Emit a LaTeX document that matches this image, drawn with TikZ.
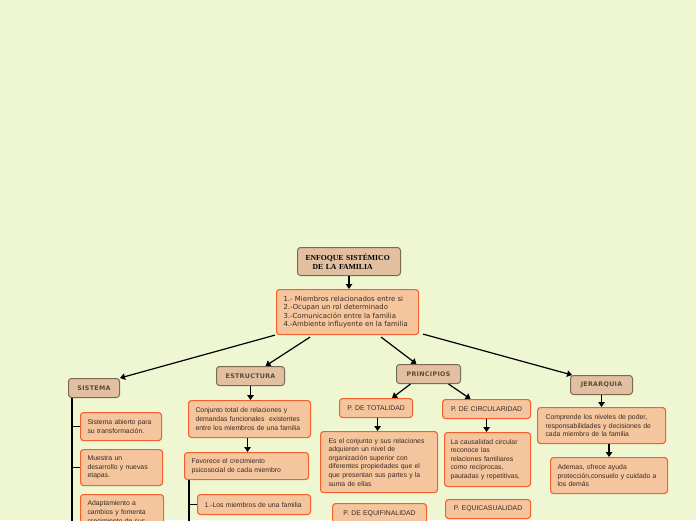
\documentclass[tikz,border=0pt]{standalone}
\usepackage{fontspec}
\usetikzlibrary{arrows.meta,calc}
\newfontfamily\boxfam{Liberation Sans}
\newfontfamily\mainfam{DejaVu Sans}
\newfontfamily\catfam[LetterSpace=5]{DejaVu Sans}
\newfontfamily\titlefam{Liberation Serif}
\definecolor{bgc}{HTML}{EEF7D2}
\definecolor{boxfill}{HTML}{F5C69E}
\definecolor{boxborder}{HTML}{F2602C}
\definecolor{catfill}{HTML}{E2BFA0}
\definecolor{catborder}{HTML}{7A6A52}
\definecolor{txt}{HTML}{3A2A22}
\definecolor{cattxt}{HTML}{5A4A3C}
\tikzset{
  box/.style={draw=boxborder, fill=boxfill, rounded corners=3pt, line width=1.1pt,
    anchor=north west, inner xsep=7pt, inner ysep=1pt, align=left, text=txt,
    font={\fontsize{6.85}{8.6}\selectfont\boxfam}},
  cbox/.style={box, align=center},
  mainbox/.style={box, font={\fontsize{6.9}{8.5}\selectfont\mainfam}},
  cat/.style={draw=catborder, fill=catfill, rounded corners=3pt, line width=1pt,
    anchor=north west, inner sep=0pt, align=center, text=cattxt,
    font={\fontsize{6.3}{7}\selectfont\catfam\bfseries}},
  titlebox/.style={cat, align=left, inner xsep=8pt, text=black,
    font={\fontsize{7.7}{8.8}\selectfont\titlefam\bfseries}},
  arr/.style={-{Triangle[length=5pt,width=6.5pt]}, line width=1.2pt},
  tree/.style={line width=1.2pt},
}
\begin{document}
\begin{tikzpicture}[x=1pt,y=-1pt]
\useasboundingbox (0,0) rectangle (696,520);
\fill[bgc] (0,0) rectangle (696,520);
\clip (0,0) rectangle (696,520);

\node[titlebox, minimum width=103pt, minimum height=28pt, text width=87pt] (title) at (297,247)
  {ENFOQUE SISTÉMICO\\\hspace*{7pt}DE LA FAMILIA};
\node[mainbox, minimum width=142pt, minimum height=45pt, text width=128pt] (main) at (276,289)
  {1.- Miembros relacionados entre si\\2.-Ocupan un rol determinado\\3.-Comunicación entre la familia\\4.-Ambiente influyente en la familia};

\node[cat, minimum width=51pt, minimum height=19pt] (sis) at (68,378) {SISTEMA};
\node[cat, minimum width=68pt, minimum height=19pt] (estr) at (216,366) {ESTRUCTURA};
\node[cat, minimum width=64pt, minimum height=19pt] (princ) at (396,364) {PRINCIPIOS};
\node[cat, minimum width=62pt, minimum height=19pt] (jer) at (570,375) {JERARQUIA};

% SISTEMA children
\node[box, minimum width=81pt, minimum height=28pt, text width=67pt] (s1) at (80,412)
  {Sistema abierto para\\su transformación.};
\node[box, minimum width=82pt, minimum height=36pt, text width=68pt] (s2) at (80,449)
  {Muestra un\\desarrollo y nuevas\\etapas.};
\node[box, minimum width=83pt, minimum height=46pt, text width=69pt] (s3) at (80,494)
  {Adaptamiento a\\cambios y fomenta\\crecimiento de sus\\\strut};

% ESTRUCTURA children
\node[box, minimum width=122pt, minimum height=37pt, text width=108pt] (e1) at (188,400)
  {Conjunto total de relaciones y\\demandas funcionales\ \ existentes\\entre los miembros de una familia};
\node[box, minimum width=124pt, minimum height=27pt, text width=110pt] (e2) at (184,452)
  {Favorece el crecimiento\\psicosocial de cada miembro};
\node[box, minimum width=113pt, minimum height=20pt, text width=99pt, inner xsep=7pt] (e3) at (197,494)
  {\mbox{1.-Los miembros de una familia}};

% PRINCIPIOS children
\node[cbox, minimum width=73pt, minimum height=19pt, text width=63pt, inner xsep=5pt] (tot) at (339,398)
  {P. DE TOTALIDAD};
\node[cbox, minimum width=88pt, minimum height=19pt, text width=78pt, inner xsep=5pt] (circ) at (442,399)
  {P. DE CIRCULARIDAD};
\node[box, minimum width=117pt, minimum height=61pt, text width=101pt, inner xsep=8pt] (td) at (320,431)
  {Es el conjunto y sus relaciones\\adquieren un nivel de\\organización superior con\\diferentes propiedades que el\\que presentan sus partes y la\\suma de ellas};
\node[box, minimum width=86pt, minimum height=54pt, text width=74pt, inner xsep=6pt] (cd) at (444,432)
  {La causalidad circular\\reconoce las\\relaciones familiares\\como recíprocas,\\pautadas y repetitivas,};
\node[cbox, minimum width=94pt, minimum height=20pt, text width=84pt, inner xsep=5pt] (equif) at (332,503)
  {P. DE EQUIFINALIDAD};
\node[cbox, minimum width=85pt, minimum height=19pt, text width=75pt, inner xsep=5pt] (equic) at (445,499)
  {P. EQUICASUALIDAD};

% JERARQUIA children
\node[box, minimum width=128pt, minimum height=36pt, text width=112pt, inner xsep=8pt] (j1) at (537,407)
  {Comprende los niveles de poder,\\responsabilidades y decisiones de\\cada miembro de la familia};
\node[box, minimum width=117pt, minimum height=36pt, text width=103pt] (j2) at (550,457)
  {Ademas, ofrece ayuda\\protección,consuelo y cuidado a\\los demás};

% connectors
\draw[arr] (title.south) -- (title.south |- main.north);
\draw[arr] ([xshift=-1pt]main.south west) -- (sis.north east);
\draw[arr] ([xshift=34pt,yshift=-2pt]main.south west) -- ([xshift=15pt]estr.north);
\draw[arr] ([xshift=-38pt,yshift=-2pt]main.south east) -- ([xshift=-12pt]princ.north);
\draw[arr] ([xshift=4pt,yshift=1pt]main.south east) -- ([xshift=2pt]jer.north west);

\draw[arr] (estr.south) -- (estr.south |- e1.north);
\draw[arr] ([xshift=-2pt]e1.south) -- ([xshift=-2pt]e1.south |- e2.north);
\draw[arr] ([xshift=-18pt]princ.south) -- ([xshift=16pt]tot.north);
\draw[arr] ([xshift=20pt]princ.south) -- ([xshift=-16pt]circ.north);
\draw[arr] ([xshift=1.5pt]tot.south) -- ([xshift=1.5pt]tot.south |- td.north);
\draw[arr] (circ.south) -- (circ.south |- cd.north);
\draw[arr] (jer.south) -- (jer.south |- j1.north);
\draw[arr] (j2.north |- j1.south) -- (j2.north);

% trees
\coordinate (sbot) at ([xshift=4pt]sis.south west |- 0,530);
\draw[tree] ([xshift=4pt]sis.south west) -- (sbot);
\draw[tree] (s1.west -| sbot) -- (s1.west);
\draw[tree] (s2.west -| sbot) -- (s2.west);
\draw[tree] ([yshift=-8pt]s3.west -| sbot) -- ([yshift=-8pt]s3.west);

\coordinate (ebot) at ([xshift=5pt]e2.south west |- 0,530);
\draw[tree] ([xshift=5pt]e2.south west) -- (ebot);
\draw[tree] (e3.west -| ebot) -- (e3.west);
\end{tikzpicture}
\end{document}
